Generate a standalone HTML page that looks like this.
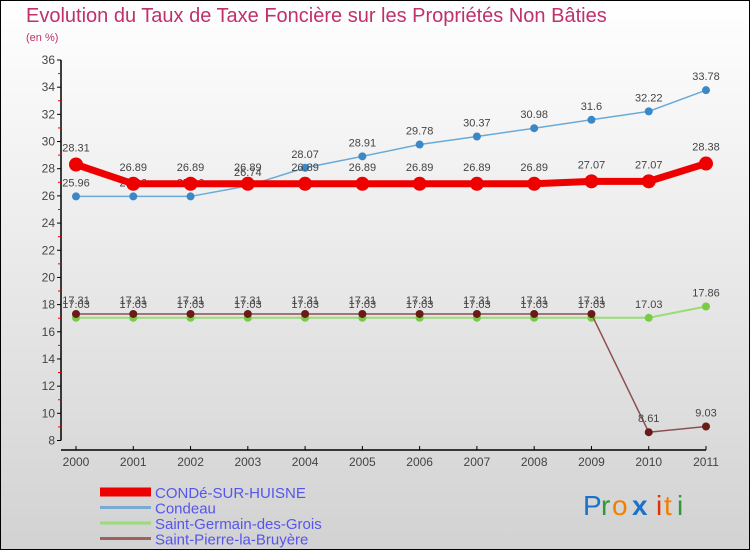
<!DOCTYPE html>
<html><head><meta charset="utf-8"><style>
body{margin:0;width:750px;height:550px;overflow:hidden}
svg{display:block;font-family:"Liberation Sans","DejaVu Sans",sans-serif}
</style></head><body>
<svg id="c" width="750" height="550" viewBox="0 0 750 550">
<defs><linearGradient id="bg" x1="0" y1="0" x2="0" y2="1"><stop offset="0" stop-color="#ffffff"/><stop offset="1" stop-color="#d2d2d2"/></linearGradient></defs>
<rect x="0.5" y="0.5" width="749" height="549" fill="url(#bg)" stroke="#000"/>
<text x="26" y="22" font-size="20" fill="#c0306a">Evolution du Taux de Taxe Foncière sur les Propriétés Non Bâties</text>
<text x="26" y="41" font-size="11" fill="#c0306a">(en %)</text>
<g id="axes"></g><g id="series"></g><g id="legend"></g>
<g font-size="28">
<text x="583" y="515" fill="#1a73c8">P</text><text x="601" y="515" fill="#2a9a3a">r</text><text x="612" y="515" fill="#f08000">o</text><text x="632" y="515" fill="#1a73c8" font-weight="bold">x</text><text x="656" y="515" fill="#e03000">i</text><text x="664" y="515" fill="#f08000">t</text><text x="677" y="515" fill="#2a9a3a">i</text>
</g>
</svg>
<script>
const years=[2000,2001,2002,2003,2004,2005,2006,2007,2008,2009,2010,2011];
const conde=[28.31,26.89,26.89,26.89,26.89,26.89,26.89,26.89,26.89,27.07,27.07,28.38];
const condeau=[25.96,25.96,25.96,26.74,28.07,28.91,29.78,30.37,30.98,31.6,32.22,33.78];
const germain=[17.03,17.03,17.03,17.03,17.03,17.03,17.03,17.03,17.03,17.03,17.03,17.86];
const pierre=[17.31,17.31,17.31,17.31,17.31,17.31,17.31,17.31,17.31,17.31,8.61,9.03];
const yTicks=[8,10,12,14,16,18,20,22,24,26,28,30,32,34,36];
const seriesNames=["CONDé-SUR-HUISNE","Condeau","Saint-Germain-des-Grois","Saint-Pierre-la-Bruyère"];
const NS="http://www.w3.org/2000/svg";
const X=i=>76+i*(706-76)/(years.length-1);
const Y=v=>60+(36-v)*(440.5-60)/28;
function mk(tag,attrs,parent,txt){const e=document.createElementNS(NS,tag);for(const k in attrs)e.setAttribute(k,attrs[k]);if(txt!==undefined)e.textContent=txt;parent.appendChild(e);return e;}
const ax=document.getElementById('axes');
const yl=mk('line',{x1:61,y1:Y(36),x2:61,y2:Y(8),stroke:'#000','stroke-width':1.5},ax);

yTicks.forEach(t=>{
 mk('line',{x1:57,y1:Y(t),x2:61,y2:Y(t),stroke:'#000'},ax);
 if(t<36)mk('line',{x1:58,y1:Y(t+1),x2:61,y2:Y(t+1),stroke:'#e00'},ax);
 const tx=mk('text',{x:55,y:Y(t)+4,'font-size':12,fill:'#444','text-anchor':'end'},ax,t);
 
});
const xl=mk('line',{x1:61,y1:450,x2:706,y2:450,stroke:'#000','stroke-width':1.5},ax);

years.forEach((yr,i)=>{
 mk('line',{x1:X(i),y1:446,x2:X(i),y2:450,stroke:'#000'},ax);
 const tx=mk('text',{x:X(i),y:466,'font-size':12,fill:'#444','text-anchor':'middle'},ax,yr);
 
});
const sg=document.getElementById('series');
function draw(vals,color,lw,r,dot,name,labelDy){
 const g=mk('g',{},sg);
 
 const p=mk('polyline',{points:vals.map((v,i)=>X(i)+','+Y(v)).join(' '),fill:'none',stroke:color,'stroke-width':lw},g);
 
 vals.forEach((v,i)=>{
  const c=mk('circle',{cx:X(i),cy:Y(v),r:r,fill:dot},g);
  
  const t=mk('text',{x:X(i),y:Y(v)+labelDy,'font-size':11,fill:'#444','text-anchor':'middle'},g,v);
  
 });
}
draw(germain,'#99dd77',2,4,'#77cc44','saint-germain-series',-10);
draw(pierre,'#8b5050',1.5,4,'#6b1a1a','saint-pierre-series',-10);
draw(condeau,'#6aaad8',1.5,4,'#3a88c8','condeau-series',-10);
draw(conde,'#ee0000',7,7,'#ee0000','conde-sur-huisne-series',-13);
const lg=document.getElementById('legend');
const lc=['#ee0000','#7aaad0','#99dd77','#a06060'];const lw=[9,3,3,3];
seriesNames.forEach((n,i)=>{
 const y=492+i*15.5;
 const g=mk('g',{},lg);
 
 mk('line',{x1:100,y1:y,x2:151,y2:y,stroke:lc[i],'stroke-width':lw[i]},g);
 mk('text',{x:155,y:y+6,'font-size':15,fill:'#5555ee'},g,n);
});
</script>
</body></html>
